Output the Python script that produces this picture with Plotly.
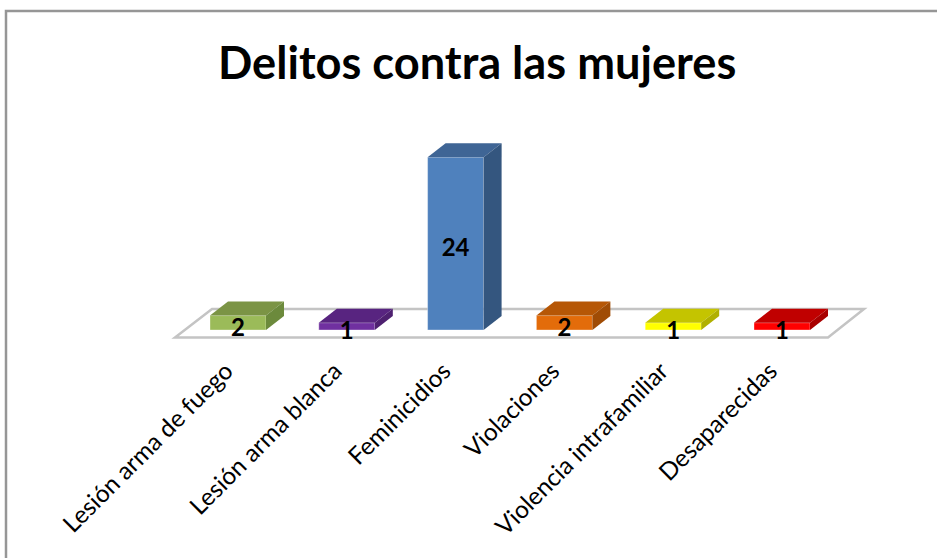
"""Delitos contra las mujeres: barras con efecto 3D"""

import plotly.graph_objects as go

categorias = ["Lesión arma de fuego", "Lesión arma blanca", "Feminicidios",
              "Violaciones", "Violencia intrafamiliar", "Desaparecidas"]
valores = [2, 1, 24, 2, 1, 1]
color_frente = ["#9bbb59", "#7030a0", "#4f81bd", "#e36c0a", "#ffff00", "#ff0000"]
color_arriba = ["#7b9445", "#582480", "#3f6595", "#b65706", "#c4c400", "#c00000"]
color_lado = ["#6c8a3c", "#4e2070", "#34567f", "#a04c05", "#b0b000", "#a80000"]

W, H = 937, 558
# posición del área de trazado en píxeles
L, R, T, B = 150, 880, 120, 345
# escala: centro de la primera barra y píxeles por unidad
X0_PX, PX_X = 238.0, 108.8
Y0_PX, PX_Y = 330.0, 7.2
ANCHO = 56 / PX_X
DX, DY = 18 / PX_X, 14 / PX_Y


def px_x(p):
    return (p - X0_PX) / PX_X


def px_y(p):
    return (Y0_PX - p) / PX_Y


def paper_x(p):
    return (p - L) / (R - L)


def paper_y(p):
    return (B - p) / (B - T)


fig = go.Figure()

fig.add_trace(go.Bar(
    x=list(range(len(valores))),
    y=valores,
    width=ANCHO,
    marker=dict(color=color_frente, line=dict(color="rgba(255,255,255,0.35)", width=1)),
    customdata=categorias,
    hovertemplate="%{customdata}: %{y}<extra></extra>",
))

# caras superior y lateral
for i, v in enumerate(valores):
    x1, x2 = i - ANCHO / 2, i + ANCHO / 2
    fig.add_trace(go.Scatter(
        x=[x1, x2, x2 + DX, x1 + DX, x1],
        y=[v, v, v + DY, v + DY, v],
        mode="lines", fill="toself", fillcolor=color_arriba[i],
        line=dict(width=0), hoverinfo="skip",
    ))
    fig.add_trace(go.Scatter(
        x=[x2, x2 + DX, x2 + DX, x2, x2],
        y=[0, DY, v + DY, v, 0],
        mode="lines", fill="toself", fillcolor=color_lado[i],
        line=dict(width=0), hoverinfo="skip",
    ))

# etiquetas de datos
fig.add_trace(go.Scatter(
    x=list(range(len(valores))),
    y=[v / 2 - 0.95 for v in valores],
    text=[str(v) for v in valores],
    mode="text",
    textposition="middle center",
    textfont=dict(family="Lato", size=24, color="black", weight="bold"),
    hoverinfo="skip",
))

# piso del gráfico
fig.add_shape(
    type="path",
    path=(f"M {px_x(175)} {px_y(337.5)} L {px_x(828)} {px_y(337.5)} "
          f"L {px_x(864)} {px_y(309)} L {px_x(212)} {px_y(309)} Z"),
    xref="x", yref="y", layer="below",
    line=dict(color="#c4c4c4", width=2.5),
)

# marco
fig.add_shape(
    type="path",
    path=(f"M {paper_x(6)} {paper_y(H)} L {paper_x(6)} {paper_y(11)} "
          f"L {paper_x(W)} {paper_y(11)}"),
    xref="paper", yref="paper",
    line=dict(color="#969696", width=2.5),
)

fig.add_annotation(
    text="<b>Delitos contra las mujeres</b>",
    xref="paper", yref="paper",
    x=paper_x(477), y=paper_y(61),
    xanchor="center", yanchor="middle",
    showarrow=False,
    font=dict(family="Lato", size=45.2, color="black"),
)

fig.update_layout(
    width=W, height=H,
    margin=dict(l=L, r=W - R, t=T, b=H - B, pad=0, autoexpand=False),
    paper_bgcolor="white",
    plot_bgcolor="white",
    showlegend=False,
    xaxis=dict(
        range=[px_x(L), px_x(R)],
        tickmode="array",
        tickvals=list(range(len(categorias))),
        ticktext=categorias,
        tickangle=-45,
        tickfont=dict(family="Lato", size=24.4, color="black"),
        ticklabelshift=-12,
        showgrid=False, zeroline=False, showline=False,
        ticks="outside", ticklen=1, tickcolor="rgba(0,0,0,0)",
    ),
    yaxis=dict(
        range=[px_y(B), px_y(T)],
        visible=False, showgrid=False, zeroline=False,
    ),
)

fig.write_html("out.html", config={"displayModeBar": False},
               post_script="document.body.style.margin = '0';")
